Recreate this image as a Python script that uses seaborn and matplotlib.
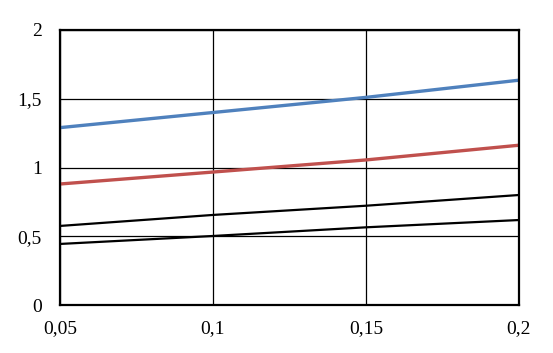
import matplotlib
matplotlib.use("Agg")
import matplotlib.pyplot as plt
import matplotlib.ticker as mticker
import seaborn as sns
import pandas as pd

x_values = [0.05, 0.10, 0.15, 0.20]
series_blue = [1.29, 1.40, 1.51, 1.635]
series_red = [0.88, 0.967, 1.055, 1.162]
series_black1 = [0.575, 0.655, 0.722, 0.80]
series_black2 = [0.444, 0.502, 0.565, 0.618]

names = ["blue", "red", "black1", "black2"]
values = [series_blue, series_red, series_black1, series_black2]
rows = []
for n, vals in zip(names, values):
    for xv, yv in zip(x_values, vals):
        rows.append({"x": xv, "y": yv, "series": n})
df = pd.DataFrame(rows)

sns.set_style("white")
plt.rcParams['font.family'] = ['Liberation Serif', 'DejaVu Serif']

fig = plt.figure(figsize=(5.53, 3.53), dpi=100)
ax = fig.add_axes([60/553, 48/353, 459/553, 275/353])

palette = {"blue": "#4F81BD", "red": "#C0504D", "black1": "#000000", "black2": "#000000"}
sns.lineplot(data=df, x="x", y="y", hue="series", palette=palette, ax=ax,
             legend=False, linewidth=2.2)
for line, lw in zip(ax.get_lines(), [2.4, 2.4, 1.6, 1.6]):
    line.set_linewidth(lw)
    line.set_zorder(3)

ax.set_xlim(0.05, 0.2)
ax.set_ylim(0, 2)
ax.set_xticks([0.05, 0.1, 0.15, 0.2])
ax.set_yticks([0, 0.5, 1, 1.5, 2])
fmt = mticker.FuncFormatter(lambda v, p: ("%g" % round(v, 2)).replace(".", ","))
ax.xaxis.set_major_formatter(fmt)
ax.yaxis.set_major_formatter(fmt)
ax.grid(True, color="black", linewidth=0.9)
ax.set_axisbelow(True)
ax.set_xlabel("")
ax.set_ylabel("")
for s in ax.spines.values():
    s.set_color("black")
    s.set_linewidth(1.6)
    s.set_zorder(4)
ax.tick_params(axis="both", length=0, labelsize=14, colors="black")
ax.tick_params(axis="y", pad=13)
ax.tick_params(axis="x", pad=11)

fig.savefig("out.png", dpi=100)
